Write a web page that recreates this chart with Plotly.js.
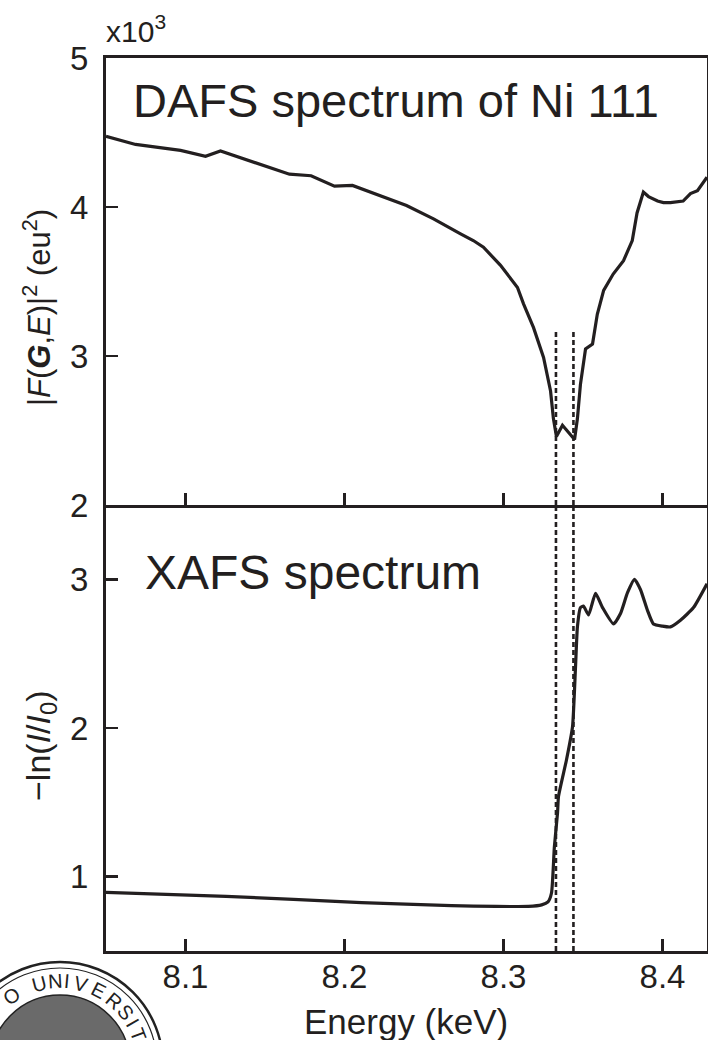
<!DOCTYPE html>
<html>
<head>
<meta charset="utf-8">
<script src="https://cdn.plot.ly/plotly-3.0.1.min.js"></script>
<style>html,body{margin:0;padding:0;background:#fff;}#chart{width:708px;height:1040px;}</style>
</head>
<body>
<div id="chart"></div>
<script>
// ---- Data ----
// DAFS spectrum of Ni 111: |F(G,E)|^2 in units of 10^3 eu^2
const energyDAFS = [8.050, 8.0686, 8.0969, 8.1126, 8.122, 8.141, 8.1654, 8.179, 8.1937, 8.205,
  8.239, 8.256, 8.2667, 8.273, 8.281, 8.2874, 8.298, 8.3088, 8.3126, 8.3189, 8.3252, 8.3296,
  8.3314, 8.3333, 8.3371, 8.3421, 8.3447, 8.3465, 8.3484, 8.3516, 8.356, 8.359, 8.363, 8.369,
  8.3755, 8.381, 8.384, 8.388, 8.3912, 8.3969, 8.4006, 8.405, 8.413, 8.4176, 8.422, 8.428];
const intensityDAFS = [4.475, 4.42, 4.38, 4.34, 4.376, 4.31, 4.22, 4.21, 4.14, 4.145,
  4.01, 3.92, 3.855, 3.82, 3.775, 3.73, 3.61, 3.46, 3.35, 3.19, 2.99, 2.765,
  2.58, 2.46, 2.535, 2.475, 2.44, 2.58, 2.81, 3.047, 3.08, 3.28, 3.44, 3.55,
  3.64, 3.775, 3.96, 4.10, 4.07, 4.04, 4.03, 4.03, 4.04, 4.09, 4.11, 4.20];

// XAFS spectrum: -ln(I/I0)
const energyXAFS = [8.05, 8.1255, 8.2107, 8.2673, 8.2956, 8.3157, 8.324, 8.328, 8.3302, 8.332,
  8.334, 8.3346, 8.3396, 8.3434, 8.3453, 8.3465, 8.3484, 8.3503, 8.3535, 8.3579, 8.3623,
  8.3692, 8.3736, 8.378, 8.3824, 8.3862, 8.3906, 8.3943, 8.4, 8.405, 8.4113, 8.4195, 8.428];
const absorbXAFS = [0.895, 0.868, 0.826, 0.805, 0.80, 0.80, 0.81, 0.83, 0.89, 1.20,
  1.43, 1.54, 1.785, 2.007, 2.41, 2.68, 2.81, 2.82, 2.76, 2.906, 2.81,
  2.70, 2.77, 2.91, 3.0, 2.93, 2.79, 2.70, 2.685, 2.68, 2.725, 2.81, 2.97];

// dashed marker lines
const edgeEnergies = [8.333, 8.344];
const dashTopDAFS = 3.17;

// ticks
const xTicks = [8.1, 8.2, 8.3, 8.4];
const xTickLabels = ['8.1', '8.2', '8.3', '8.4'];
const yTicksTop = [2, 3, 4, 5];
const yTicksBottom = [1, 2, 3];

// seal watermark letters (only those inside the page)
const sealLetters = ['O','U','N','I','V','E','R','S','I','T','Y'];
const sealAngles  = [-35,-14.5,-3.4,5,14.4,27,40,51,60,69,80];

// ---- Layout geometry ----
const W = 708, H = 1040;
const L = 106, R = 1, T = 58, B = 89;
const plotW = W - L - R, plotH = H - T - B;
const divY = 505;
const split = (H - B - divY) / plotH;
const ink = '#231f20';
const FONT = 'Liberation Sans, Arial, Helvetica, sans-serif';

function px2x(p) { return (p - L) / plotW; }
function px2y(p) { return (H - B - p) / plotH; }

const traces = [
  { x: energyDAFS, y: intensityDAFS, xaxis: 'x', yaxis: 'y', mode: 'lines',
    line: { color: ink, width: 3.2 }, hoverinfo: 'skip' },
  { x: energyXAFS, y: absorbXAFS, xaxis: 'x2', yaxis: 'y2', mode: 'lines',
    line: { color: ink, width: 3.2, shape: 'spline', smoothing: 0.5 }, hoverinfo: 'skip' }
];

const axCommon = {
  showgrid: false, zeroline: false, showline: true, linecolor: ink, linewidth: 3,
  mirror: true, ticks: 'inside', ticklen: 12, tickwidth: 2.8, tickcolor: ink,
  tickfont: { family: FONT, size: 33, color: ink }
};

const shapes = [];
edgeEnergies.forEach(e => {
  shapes.push({ type: 'line', xref: 'x', yref: 'y', x0: e, x1: e, y0: 2, y1: dashTopDAFS,
    line: { color: ink, width: 2.6, dash: '5px,3px' } });
  shapes.push({ type: 'line', xref: 'x2', yref: 'y2', x0: e, x1: e, y0: 0.5, y1: 3.5,
    line: { color: ink, width: 2.6, dash: '5px,3px' } });
});

// seal watermark (decorative)
const sc = { x: 60, y: 1065 };
function circ(r, lw, fill) {
  return { type: 'circle', xref: 'paper', yref: 'paper', layer: 'above',
    x0: px2x(sc.x - r), x1: px2x(sc.x + r), y0: px2y(sc.y + r), y1: px2y(sc.y - r),
    line: { color: '#222', width: lw }, fillcolor: fill || 'rgba(0,0,0,0)' };
}
shapes.push(circ(103, 2.5));
shapes.push(circ(97, 1.2));
shapes.push(circ(70, 1.5, '#6a6a6a'));

const annotations = [
  { text: 'DAFS spectrum of Ni 111', xref: 'paper', yref: 'paper', x: px2x(131), y: px2y(100),
    xanchor: 'left', yanchor: 'middle', showarrow: false, font: { family: FONT, size: 47, color: ink } },
  { text: 'XAFS spectrum', xref: 'paper', yref: 'paper', x: px2x(143), y: px2y(572),
    xanchor: 'left', yanchor: 'middle', showarrow: false, font: { family: FONT, size: 48, color: ink } },
  { text: 'x10<sup>3</sup>', xref: 'paper', yref: 'paper', x: px2x(104), y: px2y(50),
    xanchor: 'left', yanchor: 'bottom', showarrow: false, font: { family: FONT, size: 30, color: ink } },
  { text: '|<i>F</i>(<b><i>G</i></b>,<i>E</i>)|<sup>2</sup> (eu<sup>2</sup>)', xref: 'paper', yref: 'paper',
    x: px2x(37), y: px2y(308), xanchor: 'center', yanchor: 'middle', textangle: -90, showarrow: false,
    font: { family: FONT, size: 31, color: ink } },
  { text: '\u2212ln(<i>I</i>/<i>I</i><sub>0</sub>)', xref: 'paper', yref: 'paper',
    x: px2x(40), y: px2y(746), xanchor: 'center', yanchor: 'middle', textangle: -90, showarrow: false,
    font: { family: FONT, size: 34, color: ink } },
  { text: 'Energy (keV)', xref: 'paper', yref: 'paper', x: px2x(406), y: px2y(1021),
    xanchor: 'center', yanchor: 'middle', showarrow: false, font: { family: FONT, size: 35, color: ink } }
];
sealLetters.forEach((ch, i) => {
  const a = sealAngles[i] * Math.PI / 180;
  annotations.push({ text: ch, xref: 'paper', yref: 'paper',
    x: px2x(sc.x + 84 * Math.sin(a)), y: px2y(sc.y - 84 * Math.cos(a)),
    xanchor: 'center', yanchor: 'middle', textangle: sealAngles[i], showarrow: false,
    font: { family: FONT, size: 20, color: '#222' } });
});

const layout = {
  width: W, height: H,
  margin: { l: L, r: R, t: T, b: B, pad: 0 },
  paper_bgcolor: '#fff', plot_bgcolor: '#fff',
  showlegend: false,
  xaxis: Object.assign({}, axCommon, { domain: [0, 1], anchor: 'y', range: [8.05, 8.428],
    tickvals: xTicks, showticklabels: false }),
  yaxis: Object.assign({}, axCommon, { domain: [split, 1], anchor: 'x', range: [2, 5],
    tickvals: yTicksTop, ticktext: yTicksTop.map(String), ticklabelstandoff: 8 }),
  xaxis2: Object.assign({}, axCommon, { domain: [0, 1], anchor: 'y2', matches: 'x', range: [8.05, 8.428],
    mirror: false, tickvals: xTicks, ticktext: xTickLabels, ticklabelstandoff: -6 }),
  yaxis2: Object.assign({}, axCommon, { domain: [0, split], anchor: 'x2', range: [0.5, 3.5],
    tickvals: yTicksBottom, ticktext: yTicksBottom.map(String), ticklabelstandoff: 8 }),
  shapes: shapes,
  annotations: annotations
};

Plotly.newPlot('chart', traces, layout, { staticPlot: true, displayModeBar: false });
</script>
</body>
</html>
